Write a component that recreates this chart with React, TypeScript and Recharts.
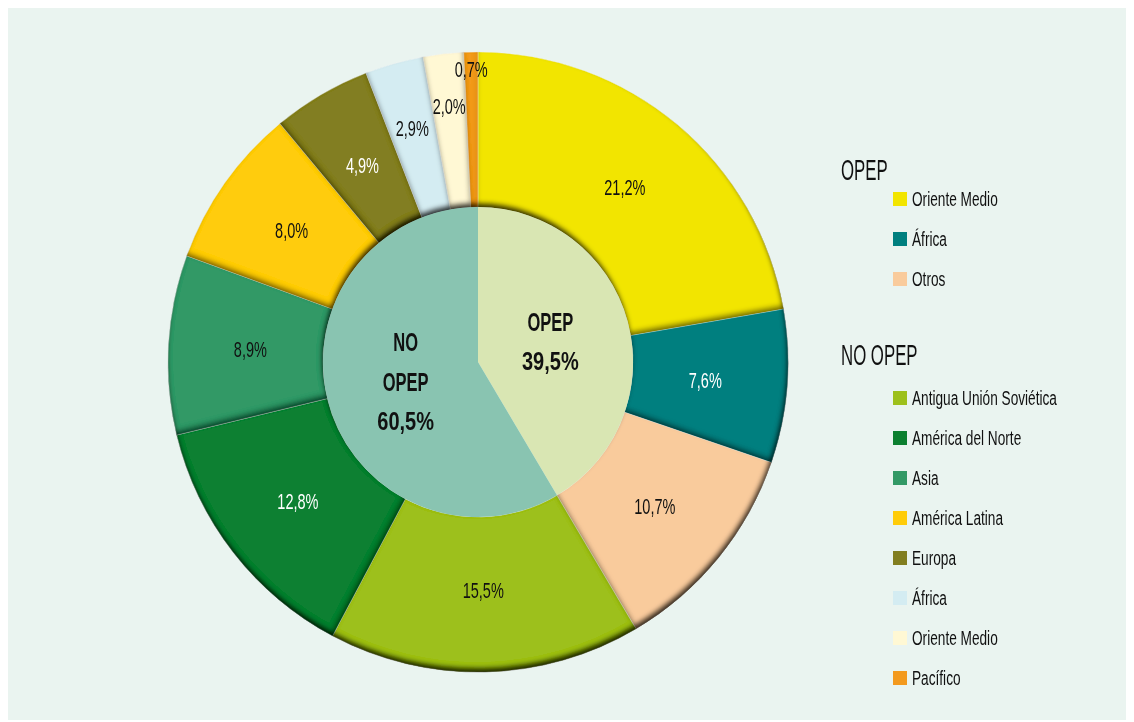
import React from 'react';
import { PieChart, Pie, Cell } from 'recharts';

// OPEP producers (outer ring, first part)
const opepNames = ['Oriente Medio', 'África', 'Otros'];
const opepValues = [21.2, 7.6, 10.7];

// NO OPEP producers (outer ring, second part)
const noOpepNames = [
  'Antigua Unión Soviética',
  'América del Norte',
  'Asia',
  'América Latina',
  'Europa',
  'África',
  'Oriente Medio',
  'Pacífico',
];
const noOpepValues = [15.5, 12.8, 8.9, 8.0, 4.9, 2.9, 2.0, 0.7];

// inner pie
const groupNames = ['OPEP', 'NO OPEP'];
const groupShares = [39.5, 60.5];

const opepColors = ['#F2E500', '#007F7F', '#F9CB9C'];
const noOpepColors = ['#9DC01C', '#0C8030', '#339966', '#FFCC0A', '#827E20', '#D4ECF2', '#FFF8D4', '#F39A1E'];
const opepLabelColors = ['#111', '#fff', '#111'];
const noOpepLabelColors = ['#111', '#fff', '#111', '#111', '#fff', '#111', '#111', '#111'];
const groupColors = ['#D9E6B3', '#89C4B1'];

const sum = (a: number[]) => a.reduce((s, v) => s + v, 0);

const outerData = [
  ...opepNames.map((name, i) => ({ name, value: opepValues[i] })),
  ...noOpepNames.map((name, i) => ({ name, value: noOpepValues[i] })),
];
const outerColors = [...opepColors, ...noOpepColors];
const outerLabelColors = [...opepLabelColors, ...noOpepLabelColors];

// inner slices follow the outer ring so the boundaries line up
const innerData = groupNames.map((name, i) => ({
  name,
  value: i === 0 ? sum(opepValues) : sum(noOpepValues),
  share: groupShares[i],
}));

const FONT = '"Liberation Sans Narrow", "Arial Narrow", sans-serif';
const RAD = Math.PI / 180;
const fmt = (v: number) => v.toFixed(1).replace('.', ',') + '%';

const labelRadius = (v: number) => (v >= 4 ? 228 : v >= 2.5 ? 243 : v >= 1.5 ? 257 : 293);

const OuterLabel = (props: any) => {
  const { cx, cy, midAngle, index } = props;
  const v = props.payload?.value ?? props.value;
  const r = labelRadius(v);
  const x = cx + r * Math.cos(-midAngle * RAD);
  const y = cy + r * Math.sin(-midAngle * RAD);
  return (
    <text
      transform={`translate(${x},${y}) scale(0.66,1)`}
      textAnchor="middle"
      dominantBaseline="central"
      fill={outerLabelColors[index]}
      fontSize={22}
      fontFamily={FONT}
    >
      {fmt(v)}
    </text>
  );
};

const InnerLabel = (props: any) => {
  const { cx, cy, midAngle, index } = props;
  const r = 75;
  const x = cx + r * Math.cos(-midAngle * RAD);
  const y = cy + r * Math.sin(-midAngle * RAD);
  const lines = [...groupNames[index].split(' '), fmt(groupShares[index])];
  const start = -((lines.length - 1) * 40) / 2;
  return (
    <g>
      {lines.map((t, i) => (
        <text
          key={i}
          transform={`translate(${x},${y + start + i * 40}) scale(${t.endsWith('%') ? 0.8 : 0.66},1)`}
          textAnchor="middle"
          dominantBaseline="central"
          fill="#111"
          fontSize={25}
          fontWeight="bold"
          fontFamily={FONT}
        >
          {t}
        </text>
      ))}
    </g>
  );
};

const LegendText = ({ left, top, size, scale, children }: any) => (
  <span
    style={{
      position: 'absolute',
      left,
      top,
      fontSize: size,
      lineHeight: 1,
      whiteSpace: 'nowrap',
      transform: `scaleX(${scale})`,
      transformOrigin: 'left top',
      color: '#111',
      fontFamily: FONT,
    }}
  >
    {children}
  </span>
);

const LegendGroup = ({ title, names, colors, headBase, itemBase }: any) => (
  <>
    <LegendText left={833} top={headBase - 25.4} size={30} scale={0.56}>
      {title}
    </LegendText>
    {names.map((n: string, i: number) => {
      const base = itemBase + i * 40;
      return (
        <React.Fragment key={n + i}>
          <div style={{ position: 'absolute', left: 885, top: base - 14, width: 14, height: 14, background: colors[i] }} />
          <LegendText left={904} top={base - 16.5} size={19.5} scale={0.7}>
            {n}
          </LegendText>
        </React.Fragment>
      );
    })}
  </>
);

export default function App() {
  return (
    <div style={{ position: 'relative', width: 1126, height: 712, background: '#EAF4F0', overflow: 'hidden' }}>
      <style>{`.ring-outer { filter: url(#ringInset); }`}</style>
      <svg width={0} height={0} style={{ position: 'absolute' }}>
        <defs>
          <filter id="ringInset" x="-5%" y="-5%" width="110%" height="110%">
            <feComponentTransfer in="SourceAlpha" result="inv">
              <feFuncA type="table" tableValues="1 0" />
            </feComponentTransfer>
            <feGaussianBlur in="inv" stdDeviation="2.5" result="blur" />
            <feOffset in="blur" dx="-1" dy="-4" result="off" />
            <feFlood floodColor="#000" floodOpacity="0.8" />
            <feComposite in2="off" operator="in" result="shadow" />
            <feComposite in="shadow" in2="SourceAlpha" operator="in" result="inner" />
            <feMerge>
              <feMergeNode in="SourceGraphic" />
              <feMergeNode in="inner" />
            </feMerge>
          </filter>
        </defs>
      </svg>
      <PieChart width={1126} height={712} margin={{ top: 0, right: 0, bottom: 0, left: 0 }}>
        <Pie
          className="ring-outer"
          data={outerData}
          dataKey="value"
          cx={470}
          cy={354}
          innerRadius={155}
          outerRadius={310}
          startAngle={90}
          endAngle={-270}
          stroke="#ffffff"
          strokeOpacity={0.35}
          strokeWidth={1}
          label={OuterLabel}
          labelLine={false}
          isAnimationActive={false}
        >
          {outerData.map((d, i) => (
            <Cell key={d.name + i} fill={outerColors[i]} />
          ))}
        </Pie>
        <Pie
          data={innerData}
          dataKey="value"
          cx={470}
          cy={354}
          innerRadius={0}
          outerRadius={155}
          startAngle={90}
          endAngle={-270}
          stroke="none"
          label={InnerLabel}
          labelLine={false}
          isAnimationActive={false}
        >
          {innerData.map((d, i) => (
            <Cell key={d.name} fill={groupColors[i]} />
          ))}
        </Pie>
      </PieChart>
      <div style={{ position: 'absolute', left: 0, top: 0, width: 1126, height: 712, pointerEvents: 'none' }}>
        <LegendGroup title="OPEP" names={opepNames} colors={opepColors} headBase={172} itemBase={198} />
        <LegendGroup title="NO OPEP" names={noOpepNames} colors={noOpepColors} headBase={357} itemBase={397} />
      </div>
    </div>
  );
}
